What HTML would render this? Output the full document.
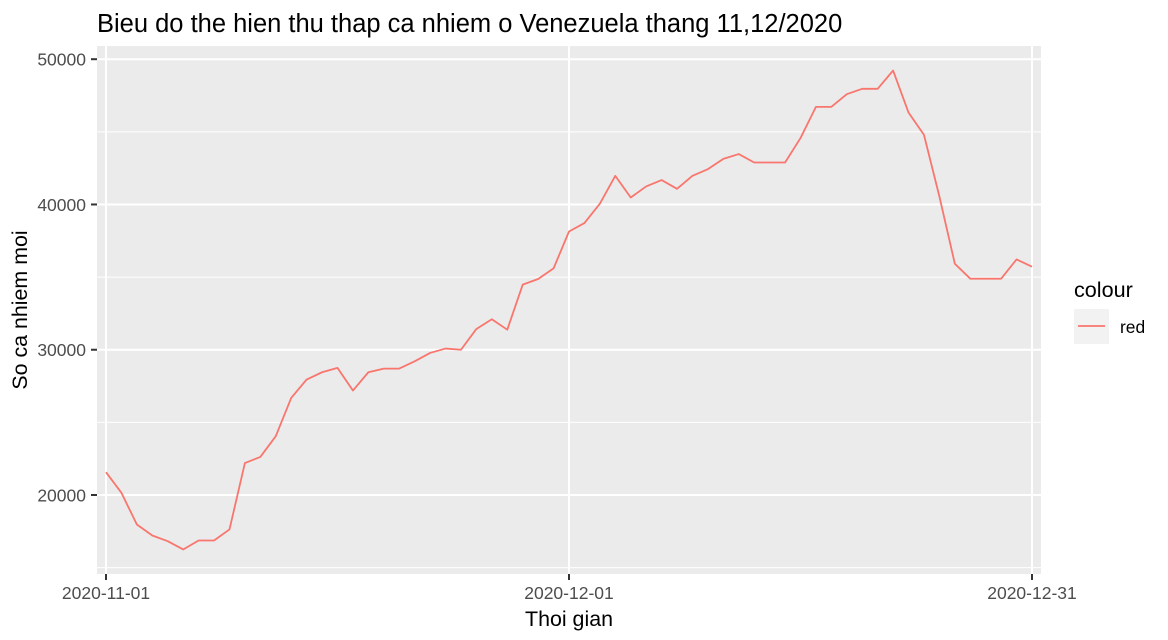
<!DOCTYPE html>
<html>
<head>
<meta charset="utf-8">
<title>Bieu do the hien thu thap ca nhiem o Venezuela</title>
<style>
html,body{margin:0;padding:0;background:#fff;}
svg{display:block;font-family:"Liberation Sans",Arial,sans-serif;}
</style>
</head>
<body>
<svg id="chart" width="1168" height="640" viewBox="0 0 1168 640" xmlns="http://www.w3.org/2000/svg">
  <rect x="0" y="0" width="1168" height="640" fill="#ffffff"/>
  <rect x="97" y="46" width="944" height="528" fill="#EBEBEB"/>
  <g id="grid"></g>
  <g id="axes"></g>
  <path id="series" fill="none" stroke="#F8766D" stroke-width="1.8" stroke-linejoin="round"/>
  <text x="97" y="32" font-size="25.5" fill="#000">Bieu do the hien thu thap ca nhiem o Venezuela thang 11,12/2020</text>
  <text x="569" y="626" font-size="21.4" fill="#000" text-anchor="middle">Thoi gian</text>
  <text transform="translate(27,310) rotate(-90)" font-size="21.4" fill="#000" text-anchor="middle">So ca nhiem moi</text>
  <g>
    <text x="1074" y="297" font-size="21.6" fill="#000">colour</text>
    <rect x="1074" y="309" width="35" height="35" fill="#F2F2F2"/>
    <line x1="1078" x2="1105" y1="326" y2="326" stroke="#F8766D" stroke-width="1.8"/>
    <text x="1120" y="333" font-size="17.4" fill="#000">red</text>
  </g>
</svg>
<script>
var startDate = "2020-11-01";
var xTickLabels = ["2020-11-01", "2020-12-01", "2020-12-31"];
var yMajorTicks = [20000, 30000, 40000, 50000];
var yMinorTicks = [15000, 25000, 35000, 45000];
var cases = [
  21570, 20150, 17970, 17210, 16820, 16250, 16870, 16870, 17630, 22200,
  22620, 24050, 26680, 27950, 28450, 28750, 27190, 28450, 28700, 28700,
  29200, 29780, 30080, 30000, 31430, 32100, 31380, 34480, 34870, 35600,
  38140, 38720, 40050, 41970, 40480, 41240, 41680, 41080, 41970, 42430,
  43140, 43470, 42890, 42890, 42890, 44570, 46720, 46720, 47590, 47960,
  47960, 49220, 46330, 44790, 40550, 35920, 34890, 34890, 34890, 36220,
  35720
];

var NS = "http://www.w3.org/2000/svg";
var panel = {left: 97, right: 1041, top: 46, bottom: 574};
var DAY = 86400000;

function dayIndex(s) {
  return (Date.parse(s) - Date.parse(startDate)) / DAY;
}
function xScale(day) {
  return 106 + day * (1032 - 106) / 60;
}
function yScale(v) {
  return 495 + (v - 20000) * (59.2 - 495) / 30000;
}
function make(tag, attrs, parent) {
  var el = document.createElementNS(NS, tag);
  for (var k in attrs) el.setAttribute(k, attrs[k]);
  parent.appendChild(el);
  return el;
}

var grid = document.getElementById("grid");
var axes = document.getElementById("axes");

yMinorTicks.forEach(function (v) {
  var l = make("line", {x1: panel.left, x2: panel.right, y1: yScale(v), y2: yScale(v), stroke: "#fff", "stroke-width": 1}, grid);
  
  
});
yMajorTicks.forEach(function (v) {
  var l = make("line", {x1: panel.left, x2: panel.right, y1: yScale(v), y2: yScale(v), stroke: "#fff", "stroke-width": 2}, grid);
  
  
  var t = make("line", {x1: 91, x2: panel.left, y1: yScale(v), y2: yScale(v), stroke: "#333", "stroke-width": 2}, axes);
  
  
  var lab = make("text", {x: 86, y: yScale(v) + 6.3, "font-size": 17.5, fill: "#4D4D4D", "text-anchor": "end"}, axes);
  
  
  lab.textContent = String(v);
});
xTickLabels.forEach(function (d) {
  var x = xScale(dayIndex(d));
  var l = make("line", {x1: x, x2: x, y1: panel.top, y2: panel.bottom, stroke: "#fff", "stroke-width": 2}, grid);
  
  
  var t = make("line", {x1: x, x2: x, y1: panel.bottom, y2: 580, stroke: "#333", "stroke-width": 2}, axes);
  
  
  var lab = make("text", {x: x, y: 599, "font-size": 17.5, fill: "#4D4D4D", "text-anchor": "middle"}, axes);
  
  
  lab.textContent = d;
});

document.getElementById("series").setAttribute("d", cases.map(function (v, i) {
  return (i ? "L" : "M") + xScale(i).toFixed(2) + " " + yScale(v).toFixed(2);
}).join(" "));
</script>
</body>
</html>
